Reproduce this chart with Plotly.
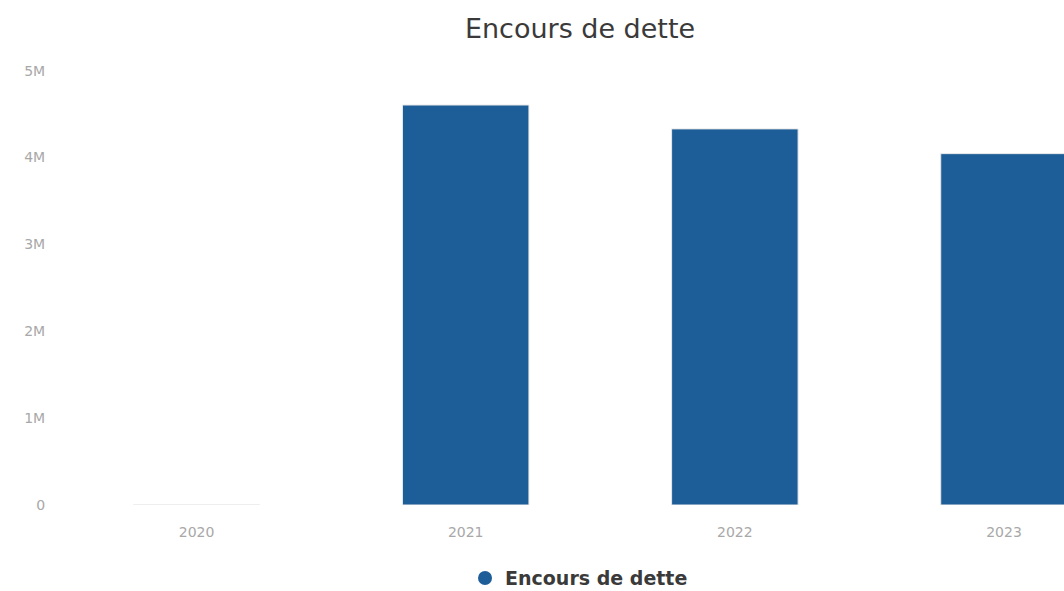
import plotly.graph_objects as go

# Debt outstanding by year
years = ["2020", "2021", "2022", "2023"]
encours = [0, 4605000, 4330000, 4045000]
series_name = "Encours de dette"
y_ticks = [0, 1000000, 2000000, 3000000, 4000000, 5000000]
y_tick_text = ["0", "1M", "2M", "3M", "4M", "5M"]

bar_color = "#1e5e98"
tick_color = "#a8a8a8"

fig = go.Figure()
fig.add_trace(go.Bar(
    x=years,
    y=encours,
    name=series_name,
    width=0.47,
    marker=dict(color=bar_color, line=dict(color="#e8e8e8", width=1)),
    showlegend=False,
))

# Legend entry with a round marker
fig.add_trace(go.Scatter(
    x=[None],
    y=[None],
    mode="markers",
    name=series_name,
    marker=dict(symbol="circle", size=14, color=bar_color),
    showlegend=True,
))

fig.update_layout(
    width=1064,
    height=591,
    margin=dict(l=62, r=0, t=62, b=86, autoexpand=False),
    paper_bgcolor="white",
    plot_bgcolor="white",
    font=dict(family="DejaVu Sans, sans-serif"),
    title=dict(
        text="Encours de dette",
        xref="paper",
        x=0.517, xanchor="center",
        y=0.952, yanchor="middle",
        font=dict(size=27, color="#3a3a3a"),
    ),
    legend=dict(
        orientation="h",
        x=0.516, xanchor="center",
        y=-0.165, yanchor="middle",
        font=dict(size=19, color="#3a3a3a", family="DejaVu Sans, sans-serif", weight="bold"),
        itemwidth=30,
    ),
)

fig.update_xaxes(
    type="category",
    range=[-0.5, 3.223],
    showgrid=False,
    zeroline=False,
    showline=False,
    ticks="outside",
    ticklen=14,
    tickcolor="rgba(0,0,0,0)",
    tickfont=dict(size=14, color=tick_color),
)

fig.update_yaxes(
    range=[0, 5100000],
    tickvals=y_ticks,
    ticktext=y_tick_text,
    showgrid=False,
    zeroline=False,
    showline=False,
    ticks="outside",
    ticklen=13,
    tickcolor="rgba(0,0,0,0)",
    tickfont=dict(size=14, color=tick_color),
)

fig.write_html("out.html")
